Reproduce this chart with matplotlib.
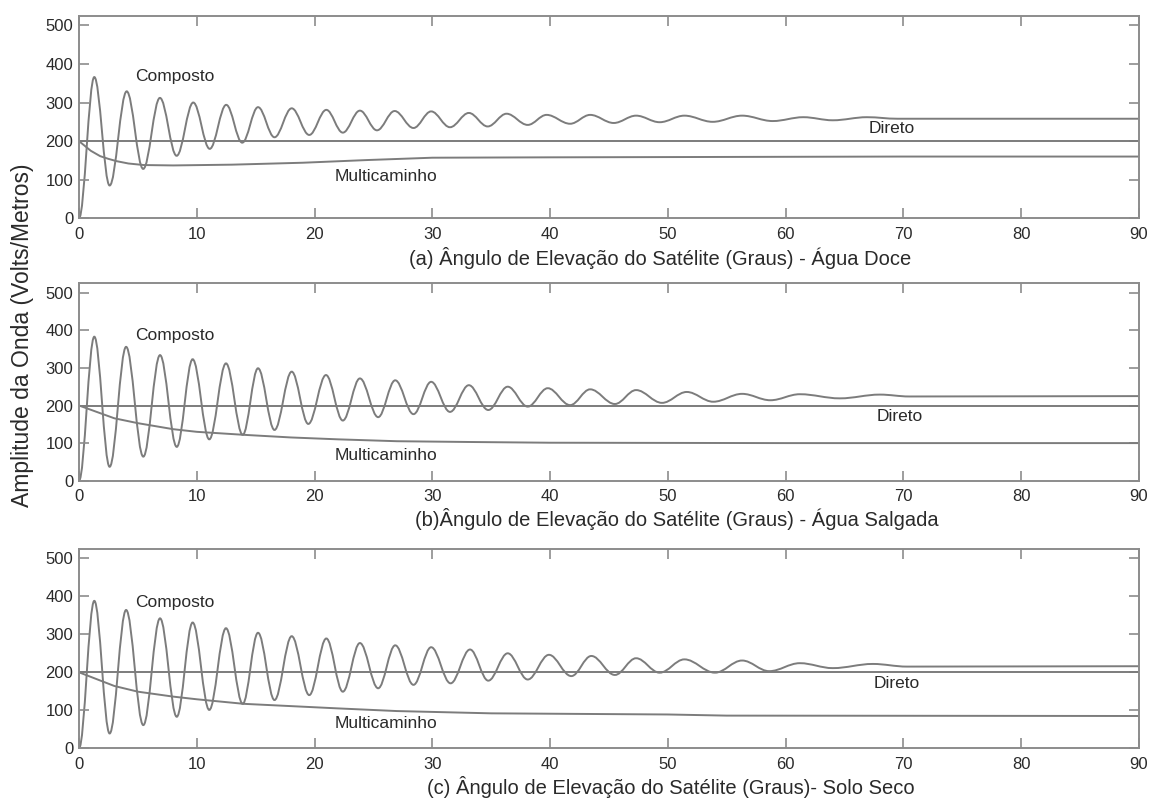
import matplotlib
matplotlib.use("Agg")
import matplotlib.pyplot as plt
from matplotlib.path import Path
from matplotlib.patches import PathPatch

plt.rcParams['font.family'] = ['Liberation Sans', 'DejaVu Sans']

# ---------------- data ----------------
x_ticks = [0, 10, 20, 30, 40, 50, 60, 70, 80, 90]
y_ticks = [0, 100, 200, 300, 400, 500]

direto_x = [0, 90]
direto_y = [200, 200]

# (a) Agua Doce
comp_a_x = [0, 1.3, 2.6, 4.05, 5.45, 6.87, 8.29, 9.7, 11.1, 12.5, 13.86, 15.2, 16.6, 18.06,
            19.55, 21.0, 22.4, 23.85, 25.3, 26.8, 28.4, 29.9, 31.5, 33.1, 34.7, 36.3, 38.1,
            39.7, 41.7, 43.4, 45.4, 47.3, 49.3, 51.4, 53.8, 56.3, 58.9, 61.5, 64.0, 66.9,
            69.5, 90]
comp_a_y = [0, 366, 85, 329, 128, 312, 162, 300, 180, 294, 196, 288, 210, 285,
            216, 281, 222, 279, 228, 278, 234, 277, 236, 273, 238, 271, 242,
            268, 245, 268, 247, 266, 249, 266, 250, 266, 252, 262, 254, 262,
            258, 258]
mp_a_x = [0, 1, 1.8, 2.5, 3.2, 4.2, 5.5, 8, 13, 19, 24.5, 30, 40, 55, 70, 90]
mp_a_y = [200, 175, 161, 154, 148, 142, 138, 137, 139, 144, 151, 157, 158, 159, 160, 160]

# (b) Agua Salgada
comp_b_x = [0, 1.3, 2.6, 4.0, 5.46, 6.88, 8.3, 9.65, 11.06, 12.48, 13.9, 15.2, 16.6, 18.06,
            19.47, 20.97, 22.4, 23.85, 25.4, 26.85, 28.4, 29.9, 31.5, 33.1, 34.75, 36.4,
            38.1, 39.8, 41.7, 43.4, 45.5, 47.3, 49.5, 51.6, 53.85, 56.3, 58.7, 61.2, 64.6,
            68.0, 70.5, 90]
comp_b_y = [0, 383, 37, 356, 64, 334, 90, 323, 110, 312, 122, 299, 135, 290,
            151, 281, 160, 272, 169, 267, 177, 263, 183, 254, 188, 250,
            197, 246, 201, 243, 204, 241, 207, 236, 210, 231, 214, 230, 219,
            229, 224, 225]
mp_b_x = [0, 3, 5, 8, 10, 14, 18, 22, 27, 33, 40, 60, 90]
mp_b_y = [200, 166, 153, 137, 130, 122, 115, 110, 105, 103, 101, 100, 100]

# (c) Solo Seco
comp_c_x = [0, 1.3, 2.6, 4.0, 5.46, 6.88, 8.3, 9.65, 11.06, 12.48, 13.9, 15.2, 16.6, 18.06,
            19.55, 21.0, 22.4, 23.85, 25.4, 26.85, 28.4, 29.9, 31.55, 33.2, 34.75, 36.4,
            38.1, 39.9, 41.8, 43.5, 45.5, 47.3, 49.3, 51.4, 54.0, 56.3, 58.6, 61.2, 64.0,
            67.4, 70.3, 90]
comp_c_y = [0, 388, 39, 364, 61, 342, 83, 331, 101, 316, 117, 304, 127, 295,
            140, 289, 149, 277, 158, 271, 167, 266, 171, 260, 178, 250,
            181, 246, 190, 243, 193, 237, 199, 234, 199, 231, 203, 224, 211,
            222, 215, 216]
mp_c_x = [0, 3, 5, 8, 10, 14, 18, 22, 27, 35, 50, 55, 90]
mp_c_y = [200, 164, 149, 136, 129, 117, 111, 105, 98, 92, 89, 86, 85]

panel_titles = [
    "(a) Ângulo de Elevação do Satélite (Graus) - Água Doce",
    "(b)Ângulo de Elevação do Satélite (Graus) - Água Salgada",
    "(c) Ângulo de Elevação do Satélite (Graus)- Solo Seco",
]
ylabel = "Amplitude da Onda (Volts/Metros)"

# label positions (data coords)
composto_pos = [(8.15, 368), (8.15, 387), (8.15, 384)]
multi_pos = [(26.1, 108), (26.1, 66), (26.1, 66)]
direto_pos = [(69.0, 232), (69.7, 170), (69.4, 170)]

comps = [(comp_a_x, comp_a_y), (comp_b_x, comp_b_y), (comp_c_x, comp_c_y)]
mps = [(mp_a_x, mp_a_y), (mp_b_x, mp_b_y), (mp_c_x, mp_c_y)]

# ---------------- figure ----------------
W, H = 1150, 799
fig = plt.figure(figsize=(W / 100, H / 100), dpi=100)
fig.patch.set_facecolor('white')

# axes boxes in pixels (left, top, right, bottom)
boxes = [(79, 15.7, 1139, 218.3), (79, 283.3, 1139, 480.7), (79, 548.8, 1139, 748.3)]
title_pos = [(660, 258), (677, 519), (671, 787)]

line_col = '#7c7c7c'
spine_col = '#8c8c8c'
text_col = '#2a2a2a'


def smooth_path(xs, ys, k=0.3642):
    verts = [(xs[0], ys[0])]
    codes = [Path.MOVETO]
    for i in range(1, len(xs)):
        dx = xs[i] - xs[i - 1]
        verts += [(xs[i - 1] + k * dx, ys[i - 1]), (xs[i] - k * dx, ys[i]), (xs[i], ys[i])]
        codes += [Path.CURVE4] * 3
    return Path(verts, codes)


for i, (l, t, r, b) in enumerate(boxes):
    ax = fig.add_axes([l / W, 1 - b / H, (r - l) / W, (b - t) / H])
    ax.set_xlim(0, 90)
    ax.set_ylim(0, 525)
    ax.set_xticks(x_ticks)
    ax.set_yticks(y_ticks)
    ax.tick_params(direction='in', top=True, right=True, length=7, width=1.2,
                   color=spine_col, labelsize=12, labelcolor=text_col)
    ax.tick_params(axis='x', pad=6)
    ax.tick_params(axis='y', pad=4)
    for s in ax.spines.values():
        s.set_color(spine_col)
        s.set_linewidth(1.4)

    ax.plot(direto_x, direto_y, color=line_col, lw=1.4)
    mx, my = mps[i]
    ax.plot(mx, my, color=line_col, lw=1.4)
    cx, cy = comps[i]
    ax.add_patch(PathPatch(smooth_path(cx, cy), fill=False, edgecolor=line_col, lw=1.4))

    ax.text(*composto_pos[i], "Composto", ha='center', va='center', fontsize=12.5, color=text_col)
    ax.text(*multi_pos[i], "Multicaminho", ha='center', va='center', fontsize=12.5, color=text_col)
    ax.text(*direto_pos[i], "Direto", ha='center', va='center', fontsize=12.5, color=text_col)

    tx, ty = title_pos[i]
    fig.text(tx / W, 1 - ty / H, panel_titles[i], ha='center', va='center',
             fontsize=14.5, color=text_col)

fig.text(23 / W, 1 - 335 / H, ylabel, rotation=90, ha='center', va='center',
         fontsize=16.5, color=text_col)

fig.savefig('out.png', dpi=100, facecolor='white')
